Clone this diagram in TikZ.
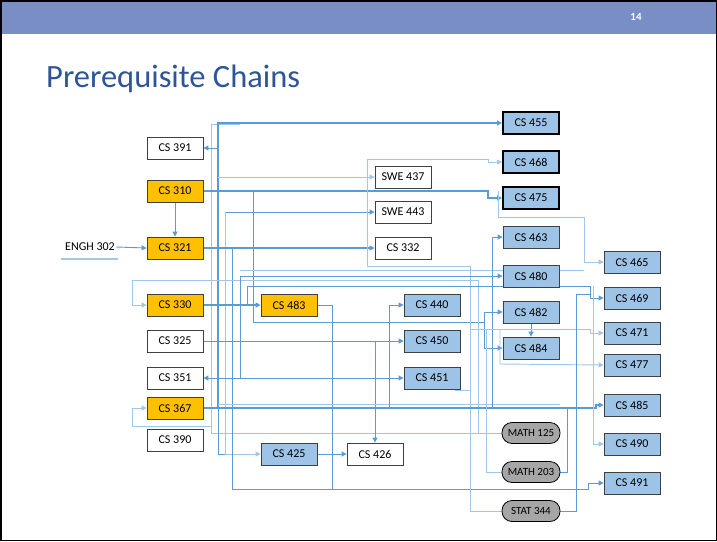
\documentclass[tikz,border=0pt]{standalone}
\usepackage{fontspec}
\setmainfont{Carlito}
\usetikzlibrary{arrows.meta}
\pgfdeclarelayer{back}
\pgfdeclarelayer{bg}
\pgfsetlayers{back,bg,main}
\definecolor{hdr}{RGB}{121,142,196}
\definecolor{ttl}{RGB}{47,85,151}
\definecolor{orng}{RGB}{255,192,0}
\definecolor{lblue}{RGB}{157,195,230}
\definecolor{wb}{RGB}{91,155,213}
\definecolor{wlc}{RGB}{160,198,232}
\definecolor{mgray}{RGB}{166,166,166}
\definecolor{bord}{RGB}{64,64,64}
\begin{document}
\begin{tikzpicture}[x=1pt,y=-1pt,
  box/.style={draw=bord, line width=0.8pt, minimum width=56pt, minimum height=22pt, inner sep=0pt, font=\fontsize{12}{14}\selectfont},
  wbox/.style={box, fill=white},
  obox/.style={box, fill=orng},
  bbox/.style={box, fill=lblue},
  kbox/.style={box, fill=lblue, draw=black, line width=2pt},
  gbox/.style={box, fill=mgray, draw=black, rounded corners=10pt, minimum width=58pt, minimum height=21pt, font=\fontsize{11}{13}\selectfont},
  w/.style={draw=wb, line width=0.9pt},
  wl/.style={draw=wlc, line width=0.9pt},
  wt/.style={draw=wb, line width=1.5pt},
  ar/.style={-{Triangle[length=5pt,width=5pt]}}
]
\useasboundingbox (0,0) rectangle (717,541);
\begin{pgfonlayer}{back}
\fill[white] (0,0) rectangle (717,541);
\fill[hdr] (0,0) rectangle (717,34);
\end{pgfonlayer}
\draw[black, line width=1.5pt] (0.75,0.75) rectangle (716.25,540.25);
\node[text=white, font=\bfseries\fontsize{11}{13}\selectfont] (pg) at (636,17) {14};
\node[anchor=west, text=ttl, font=\fontsize{32.5}{34}\selectfont, inner sep=0pt] (title) at (46,79) {Prerequisite Chains};

% nodes
\node[wbox] (cs391) at (175,148) {CS 391};
\node[obox] (cs310) at (175,191) {CS 310};
\node[obox] (cs321) at (175,248) {CS 321};
\node[obox] (cs330) at (175,305) {CS 330};
\node[wbox] (cs325) at (175,341) {CS 325};
\node[wbox] (cs351) at (175,378) {CS 351};
\node[obox] (cs367) at (175,408) {CS 367};
\node[wbox] (cs390) at (175,440) {CS 390};
\node[font=\fontsize{12}{14}\selectfont, inner sep=1pt] (engh) at (90,247) {ENGH 302};
\node[obox] (cs483) at (289,305) {CS 483};
\node[bbox] (cs425) at (289,454) {CS 425};
\node[wbox] (cs426) at (375,454) {CS 426};
\node[wbox] (swe437) at (403,177) {SWE 437};
\node[wbox] (swe443) at (403,212) {SWE 443};
\node[wbox] (cs332) at (403,248) {CS 332};
\node[bbox] (cs440) at (432,305) {CS 440};
\node[bbox] (cs450) at (432,341) {CS 450};
\node[bbox] (cs451) at (432,378) {CS 451};
\node[kbox] (cs455) at (531,123) {CS 455};
\node[kbox] (cs468) at (531,162) {CS 468};
\node[kbox] (cs475) at (531,198) {CS 475};
\node[bbox] (cs463) at (531,237) {CS 463};
\node[bbox] (cs480) at (531,276) {CS 480};
\node[bbox] (cs482) at (531,312) {CS 482};
\node[bbox] (cs484) at (531,348) {CS 484};
\node[gbox] (math125) at (531,433) {MATH 125};
\node[gbox] (math203) at (531,472) {MATH 203};
\node[gbox] (stat344) at (531,511) {STAT 344};
\node[bbox] (cs465) at (632,262) {CS 465};
\node[bbox] (cs469) at (632,298) {CS 469};
\node[bbox] (cs471) at (632,333) {CS 471};
\node[bbox] (cs477) at (632,365) {CS 477};
\node[bbox] (cs485) at (632,405) {CS 485};
\node[bbox] (cs490) at (632,444) {CS 490};
\node[bbox] (cs491) at (632,483) {CS 491};

\begin{pgfonlayer}{bg}
\draw[wlc, line width=1.2pt] (61,259) -- (118,259);
\draw[w,ar] (engh.east) -- (cs321.west);
\draw[w,ar] (cs310.south) -- (cs321.north);
% MATH 125 light bus
\draw[wl,ar] (math125.west) -- (211,433) -- (211,426) -- (132,426) |- (cs367.west);
\draw[wl] (211,426) -- (211,124) -- (240,124);
% CS 367 bus
\draw[wt,ar] (cs367.east) -| (218,123) -- (cs455.west);
\draw[w,ar] (218,148) -- (cs391.east);
\draw[w] (218,408) -- (218,454) -- (230,454);
% CS 310
\draw[wt,ar] (cs310.east) -- (488,191) |- (cs475.west);
\draw[wl,ar] (218,177) -- (swe437.west);
\draw[w,ar] (253,191) -- (253,322) -- (484,322) |- (cs482.west);
% CS 321
\draw[w,ar] (225,248) |- (swe443.west);
\draw[wl,ar] (225,212) -- (225,454) -- (cs425.west);
\draw[wt,ar] (cs321.east) -- (cs332.west);
\draw[w,ar] (232,248) -- (232,489) -- (588,489) |- (cs491.west);
% STAT 344 / SWE group
\draw[wl,ar] (stat344.west) -| (470,266) -- (367,266) -- (367,159) -- (488,159) |- (cs468.west);
% CS 330
\draw[wt,ar] (cs330.east) -- (cs483.west);
\draw[wl,ar] (478,433) -- (478,280) -- (132,280) |- (cs330.west);
\draw[w,ar] (247,305) -- (247,286) -- (590,286) |- (cs469.west);
\draw[w] (cs483.east) -- (332,305) -- (332,489);
% CS 325, 351
\draw[w,ar] (cs325.east) -- (cs450.west);
\draw[w,ar] (375,341) -- (cs426.north);
\draw[w,ar] (240,378) -- (cs351.east);
\draw[w,ar] (240,378) -- (cs451.west);
\draw[w,ar] (240,378) -- (240,276) -- (cs480.west);
\draw[wl] (240,270) -- (584,270);
% CS 367 onward
\draw[wt,ar] (cs367.east) -- (596,408) |- (cs485.west);
\draw[wl] (218,404) -- (560,404);
\draw[w,ar] (389,408) |- (cs440.west);
\draw[w,ar] (cs425.east) -- (cs426.west);
\draw[w,ar] (492,408) |- (cs463.west);
\draw[w,ar] (cs482.south) -- (cs484.north);
\draw[w,ar] (484,322) |- (cs484.west);
\draw[wl,ar] (498,191) -- (498,217) -- (584,217) |- (cs465.west);
\draw[wl,ar] (470,329) -- (590,329) |- (cs471.west);
\draw[wl,ar] (500,329) -- (500,364) -- (cs477.west);
\draw[wl,ar] (593,286) -- (593,444) -- (cs490.west);
\draw[wl,ar] (470,390) -- (455,390) |- (cs451.east);
\draw[wl] (math203.west) -- (486,472) -- (486,330);
\draw[w] (math203.east) -- (567,472) -- (567,408);
\draw[w] (stat344.east) -- (576,511) -- (576,294) -- (590,294);
\end{pgfonlayer}
\end{tikzpicture}
\end{document}
